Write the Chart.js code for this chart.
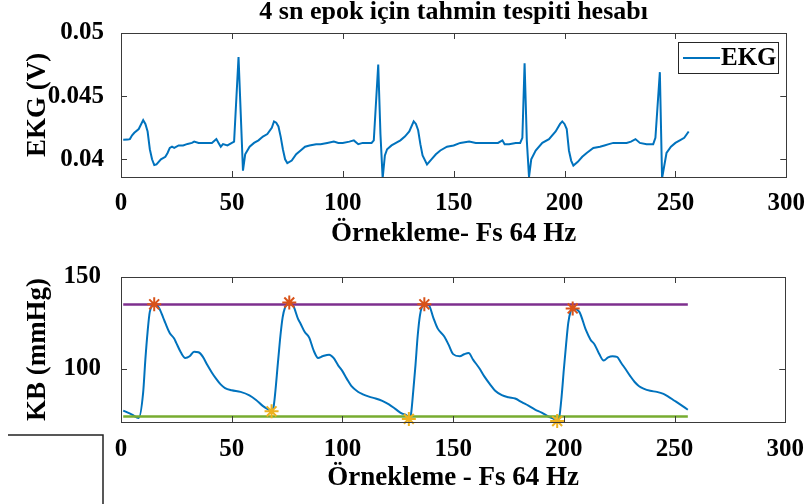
<!DOCTYPE html>
<html><head><meta charset="utf-8">
<script src="https://cdn.jsdelivr.net/npm/chart.js@4"></script>
<style>
html,body{margin:0;padding:0;background:#fff;width:809px;height:504px;overflow:hidden}
#w1{position:absolute;left:0;top:0;width:809px;height:250px}
#w2{position:absolute;left:0;top:250px;width:809px;height:254px}
</style></head><body>
<div id="w1"><canvas id="c1"></canvas></div>
<div id="w2"><canvas id="c2"></canvas></div>
<script>
const titleText = '4 sn epok için tahmin tespiti hesabı';
const ekgLabel = 'EKG';
const xTitleTop = 'Örnekleme- Fs 64 Hz';
const xTitleBottom = 'Örnekleme - Fs 64 Hz';
const yTitleTop = 'EKG (V)';
const yTitleBottom = 'KB (mmHg)';
const xTicks = [0, 50, 100, 150, 200, 250, 300];
const xTickLabels = ['0', '50', '100', '150', '200', '250', '300'];
const ekgYTicks = [0.04, 0.045, 0.05];
const ekgYTickLabels = ['0.04', '0.045', '0.05'];
const bpYTicks = [100, 150];
const bpYTickLabels = ['100', '150'];

const ekgSample = [1,3,4,5,6,8,10,11,12,13,14,15,16,18,20,21,22,23,24,26,28,30,32,33,35,37,39,41,43,44,45,46,48,50,51,53,54,55,56,58,60,62,64,66,68,69,70,71,72,73,74,75,77,79,81,83,85,88,90,93,96,98,100,103,105,107,109,111,113,114,116,117,118,119,120,122,124,126,128,130,132,133,134,135,136,138,140,142,144,147,150,153,157,160,163,167,170,172,173,175,178,180,181,182,183,184,185,187,190,193,196,198,199,200,201,202,203,204,206,208,210,213,216,218,220,222,225,228,230,232,234,237,240,241,243,244,246,248,250,252,254,256];
const ekgValue = [0.04154,0.04156,0.0416,0.0419,0.0421,0.0424,0.0431,0.0428,0.0422,0.0408,0.0400,0.03955,0.0396,0.0400,0.0402,0.0405,0.0409,0.0410,0.0409,0.0411,0.0411,0.04122,0.0413,0.0414,0.0413,0.0413,0.0413,0.0413,0.0416,0.0413,0.0410,0.0412,0.0411,0.0413,0.0414,0.0481,0.0436,0.0391,0.0404,0.0410,0.0413,0.0415,0.0418,0.0420,0.0425,0.0430,0.0429,0.0426,0.0418,0.0408,0.0400,0.0397,0.0399,0.0404,0.0407,0.0410,0.0411,0.0412,0.0412,0.0413,0.0414,0.0413,0.0413,0.0414,0.0415,0.0412,0.0413,0.0413,0.0413,0.0415,0.0475,0.0420,0.0385,0.0403,0.0408,0.0411,0.0413,0.0415,0.0418,0.0422,0.0430,0.0428,0.0423,0.0412,0.0403,0.0396,0.0400,0.0404,0.0407,0.0410,0.0411,0.0413,0.0414,0.0413,0.0413,0.0413,0.0413,0.0415,0.0412,0.0412,0.0413,0.0413,0.0417,0.0476,0.0415,0.0386,0.0400,0.0407,0.0413,0.0416,0.0422,0.0428,0.0430,0.0428,0.0424,0.0407,0.0399,0.0395,0.0398,0.0402,0.0405,0.0409,0.0410,0.0411,0.0412,0.0413,0.0413,0.0413,0.0414,0.0416,0.0413,0.0412,0.0412,0.0417,0.0469,0.0385,0.0405,0.0410,0.0413,0.0415,0.0417,0.0422];

const bpSample = [1,5,8,10,11,12,13,15,17,19,20,22,24,25,27,29,31,33,35,37,39,41,43,45,47,50,54,58,61,64,67,68,69,71,72,73,74,76,78,80,81,83,85,87,89,91,94,96,98,100,102,104,107,109,112,115,118,121,124,127,129,130,131,132,133,134,135,136,137,139,141,143,146,148,150,153,155,157,159,162,164,167,169,172,175,178,181,184,187,190,193,195,197,198,199,200,201,202,203,204,207,210,212,214,216,218,220,222,224,226,228,230,232,234,236,239,242,245,247,250,252,256];
const bpValue = [77.2,75.0,73.2,87,105,120,131,135.1,133.5,128,125,119.5,116.5,114,109,105.9,106.8,109.3,109,106.5,102,98,94.5,91.5,89.5,88.3,87.4,85.5,83,79.8,77.5,76.8,80,105,118,128,133,136.1,133.8,127,124.8,120,117,110,105.9,106.8,107.7,105.9,102,98.7,94.5,90.7,87.5,86.2,84.8,83.8,82.5,80.6,78,75.5,74.5,72.7,75.4,88,102,118,129,134,135.1,134.7,128,122,117.6,113,108,106.8,107.9,108.6,105,100,96,91,88,85.6,84.5,83.8,81.8,79.9,77.8,76.1,74,73,72,74,85,99.6,113,125,131,132.9,131,121,116,113,108,104.5,106.2,106.8,106.5,103,99.6,96,92.8,90.5,89.2,88,87.4,86.3,85,82.6,81,77.7];

const peakSample = [15, 76, 137, 204];
const peakValue = [135.1, 136.1, 135.1, 132.9];
const footSample = [68, 130, 197];
const footValue = [76.8, 72.7, 71.5];
const upperLevel = 135;
const lowerLevel = 74;
const levelSpan = [1, 256];

const FONT = "'Liberation Serif', 'Times New Roman', serif";
const BLUE = '#0072BD', RED = '#D95319', YELLOW = '#EDB120', PURPLE = '#7E2F8E', GREEN = '#77AC30';
const AXC = '#3a3a3a';

function pts(xs, ys) { return xs.map((x, i) => ({x: x, y: ys[i]})); }

const boxPlugin = {
  id: 'box',
  afterDraw(chart) {
    const ctx = chart.ctx, a = chart.chartArea;
    ctx.save();
    ctx.strokeStyle = AXC; ctx.lineWidth = 1;
    ctx.strokeRect(Math.round(a.left) + 0.5, Math.round(a.top) + 0.5, Math.round(a.right - a.left), Math.round(a.bottom - a.top));
    const tl = 6;
    ctx.beginPath();
    chart.scales.x.ticks.forEach(t => {
      const px = Math.round(chart.scales.x.getPixelForValue(t.value)) + 0.5;
      ctx.moveTo(px, a.bottom); ctx.lineTo(px, a.bottom - tl);
      ctx.moveTo(px, a.top); ctx.lineTo(px, a.top + tl);
    });
    chart.scales.y.ticks.forEach(t => {
      const py = Math.round(chart.scales.y.getPixelForValue(t.value)) + 0.5;
      ctx.moveTo(a.left, py); ctx.lineTo(a.left + tl, py);
      ctx.moveTo(a.right, py); ctx.lineTo(a.right - tl, py);
    });
    ctx.stroke();
    const o = chart.options.plugins.box || {};
    if (o.title) {
      ctx.fillStyle = '#000';
      ctx.font = 'bold 26px ' + FONT;
      ctx.textAlign = 'center'; ctx.textBaseline = 'middle';
      ctx.fillText(o.title, (a.left + a.right) / 2, 12);
    }
    if (o.legend) {
      const ds = chart.data.datasets[0];
      const bx = 678, by = 42, bw = 100, bh = 31;
      ctx.fillStyle = '#fff';
      ctx.fillRect(bx, by, bw, bh);
      ctx.strokeStyle = '#262626'; ctx.lineWidth = 1;
      ctx.strokeRect(bx + 0.5, by + 0.5, bw, bh);
      ctx.strokeStyle = ds.borderColor; ctx.lineWidth = 2;
      ctx.beginPath(); ctx.moveTo(bx + 5, by + 16); ctx.lineTo(bx + 42, by + 16); ctx.stroke();
      ctx.fillStyle = '#000';
      ctx.font = 'bold 25px ' + FONT;
      ctx.textAlign = 'left'; ctx.textBaseline = 'middle';
      ctx.fillText(ds.label, bx + 43, by + 17);
    }
    if (o.corner) {
      ctx.strokeStyle = '#222'; ctx.lineWidth = 1.5;
      ctx.beginPath();
      ctx.moveTo(o.corner[0], o.corner[1]); ctx.lineTo(o.corner[2], o.corner[1]); ctx.lineTo(o.corner[2], chart.height);
      ctx.stroke();
    }
    ctx.restore();
  }
};

function xScale(h, xTitle, padBottom, tickPad) {
  return {
    type: 'linear', min: 0, max: 300,
    afterBuildTicks: s => { s.ticks = xTicks.map(v => ({value: v})); },
    afterFit: s => { s.height = h; },
    grid: {display: false}, border: {display: false},
    ticks: {
      color: '#000', padding: tickPad, maxRotation: 0, autoSkip: false,
      font: {family: FONT, size: 25, weight: 'bold'},
      callback: (v) => xTickLabels[xTicks.indexOf(v)]
    },
    title: {display: true, text: xTitle, color: '#000', padding: {top: 0, bottom: padBottom},
      font: {family: FONT, size: 27, weight: 'bold'}}
  };
}
function yScale(min, max, ticks, labels, yTitle, tickPad, titlePad) {
  return {
    type: 'linear', min: min, max: max,
    afterBuildTicks: s => { s.ticks = ticks.map(v => ({value: v})); },
    afterFit: s => { s.width = 121; },
    grid: {display: false}, border: {display: false},
    ticks: {
      color: '#000', padding: tickPad, autoSkip: false,
      font: {family: FONT, size: 25, weight: 'bold'},
      callback: (v) => { const i = ticks.findIndex(t => Math.abs(t - v) < 1e-9); return i >= 0 ? labels[i] : ''; }
    },
    title: {display: true, text: yTitle, color: '#000', padding: {top: titlePad, bottom: 0},
      font: {family: FONT, size: 27, weight: 'bold'}}
  };
}

new Chart(document.getElementById('c1'), {
  type: 'line',
  data: {datasets: [{
    label: ekgLabel, data: pts(ekgSample, ekgValue), borderColor: BLUE, backgroundColor: BLUE,
    borderWidth: 2, pointRadius: 0, tension: 0, fill: false
  }]},
  options: {
    responsive: true, maintainAspectRatio: false, animation: false, devicePixelRatio: 1,
    layout: {padding: {top: 33, right: 20, left: 0, bottom: 0}},
    plugins: {legend: {display: false}, tooltip: {enabled: false}, box: {title: titleText, legend: true}},
    scales: {
      x: xScale(73, xTitleTop, 0, 4),
      y: yScale(0.0386, 0.05, ekgYTicks, ekgYTickLabels, yTitleTop, 9, 22)
    }
  },
  plugins: [boxPlugin]
});

new Chart(document.getElementById('c2'), {
  type: 'line',
  data: {datasets: [
    {label: 'KB', data: pts(bpSample, bpValue), borderColor: BLUE, borderWidth: 2, pointRadius: 0,
      cubicInterpolationMode: 'monotone', fill: false, order: 3},
    {label: 'üst', data: pts(levelSpan, [upperLevel, upperLevel]), borderColor: PURPLE, borderWidth: 2.5, pointRadius: 0, fill: false, order: 2},
    {label: 'alt', data: pts(levelSpan, [lowerLevel, lowerLevel]), borderColor: GREEN, borderWidth: 2.5, pointRadius: 0, fill: false, order: 2},
    {label: 'tepe', data: pts(peakSample, peakValue), showLine: false, pointStyle: 'star', pointRadius: 7,
      borderColor: RED, backgroundColor: RED, pointBorderWidth: 2, clip: false, order: 1},
    {label: 'taban', data: pts(footSample, footValue), showLine: false, pointStyle: 'star', pointRadius: 7,
      borderColor: YELLOW, backgroundColor: YELLOW, pointBorderWidth: 2, clip: false, order: 1}
  ]},
  options: {
    responsive: true, maintainAspectRatio: false, animation: false, devicePixelRatio: 1,
    layout: {padding: {top: 25, right: 20, left: 0, bottom: 0}},
    plugins: {legend: {display: false}, tooltip: {enabled: false}, box: {corner: [8, 185, 103]}},
    scales: {
      x: xScale(82, xTitleBottom, 10, 5),
      y: yScale(71, 150, bpYTicks, bpYTickLabels, yTitleBottom, 12, 22)
    }
  },
  plugins: [boxPlugin]
});
</script>
</body></html>
